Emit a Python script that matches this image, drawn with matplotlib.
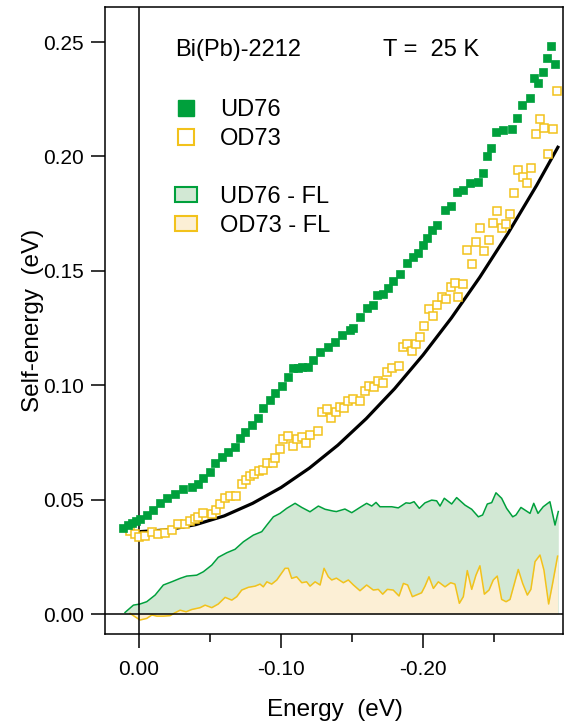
import numpy as np
import matplotlib
matplotlib.use("Agg")
import matplotlib.pyplot as plt
from matplotlib.lines import Line2D
from matplotlib.patches import Patch
from matplotlib.ticker import FormatStrFormatter

plt.rcParams['font.family'] = ['Liberation Sans', 'DejaVu Sans']
plt.rcParams['axes.unicode_minus'] = False

# UD76 self-energy (filled squares)
ud76_e = [0.011, 0.008, 0.005, 0.002, -0.001, -0.0054, -0.010, -0.0148, -0.0195, -0.0254,
          -0.0312, -0.0371, -0.0418, -0.0453, -0.050, -0.0535, -0.0582, -0.0629, -0.0676, -0.0711,
          -0.0746, -0.0794, -0.0841, -0.0875, -0.0923, -0.0958, -0.1005, -0.1051, -0.1087, -0.112,
          -0.115, -0.119, -0.1228, -0.1275, -0.1333, -0.138, -0.1427, -0.1486, -0.151, -0.1556,
          -0.1603, -0.165, -0.1674, -0.172, -0.1756, -0.179, -0.1838, -0.1885, -0.1932, -0.1967,
          -0.200, -0.2026, -0.206, -0.2096, -0.2155, -0.220, -0.2237, -0.2285, -0.233, -0.239,
          -0.242, -0.2449, -0.2477, -0.2514, -0.2566, -0.263, -0.266, -0.2695, -0.2754, -0.278,
          -0.281, -0.2843, -0.2871, -0.290, -0.293]
ud76_s = [0.0375, 0.0388, 0.0400, 0.0405, 0.0414, 0.0433, 0.0455, 0.0484, 0.0506, 0.0524,
          0.0545, 0.0556, 0.0568, 0.0593, 0.0622, 0.0659, 0.0688, 0.0709, 0.0731, 0.0768,
          0.0797, 0.0826, 0.0855, 0.0899, 0.0935, 0.0965, 0.0997, 0.1037, 0.1074, 0.1076,
          0.1078, 0.1080, 0.1110, 0.1147, 0.1168, 0.1190, 0.1219, 0.1241, 0.1249, 0.1300,
          0.1337, 0.1350, 0.1394, 0.1400, 0.1425, 0.1455, 0.1485, 0.1533, 0.1560, 0.1577,
          0.1613, 0.1642, 0.1678, 0.1700, 0.1765, 0.1785, 0.1843, 0.1853, 0.1882, 0.1887,
          0.1929, 0.2002, 0.2038, 0.2108, 0.2115, 0.2121, 0.2166, 0.2224, 0.2254, 0.2341,
          0.2322, 0.2368, 0.2432, 0.2483, 0.2404]

# OD73 self-energy (open squares)
od73_e = [0.0063, 0.0028, -0.0002, -0.0042, -0.009, -0.0136, -0.0183, -0.023, -0.0277, -0.0324,
          -0.036, -0.0394, -0.0418, -0.0453, -0.0512, -0.0542, -0.057, -0.0606, -0.064, -0.068,
          -0.0723, -0.0754, -0.078, -0.081, -0.0847, -0.0875, -0.090, -0.094, -0.0958, -0.0993,
          -0.1016, -0.1051, -0.1082, -0.111, -0.1146, -0.1176, -0.1204, -0.1263, -0.1292, -0.1321,
          -0.1351, -0.1386, -0.1415, -0.1444, -0.1474, -0.151, -0.1556, -0.1592, -0.1622, -0.1657,
          -0.1685, -0.1716, -0.1744, -0.178, -0.1834, -0.1862, -0.189, -0.192, -0.195, -0.1979,
          -0.201, -0.2043, -0.2073, -0.2102, -0.2132, -0.2162, -0.2195, -0.2228, -0.2249, -0.2284,
          -0.2312, -0.2343, -0.2371, -0.2401, -0.2432, -0.2463, -0.2491, -0.2523, -0.2554, -0.2582,
          -0.2613, -0.2643, -0.2671, -0.2702, -0.273, -0.276, -0.2794, -0.2824, -0.2852, -0.2882,
          -0.2913, -0.2941]
od73_s = [0.0364, 0.0350, 0.0338, 0.0341, 0.0357, 0.0350, 0.0353, 0.0367, 0.0393, 0.0392,
          0.0408, 0.0414, 0.0423, 0.0440, 0.0436, 0.0455, 0.0481, 0.0506, 0.0516, 0.0516,
          0.0568, 0.0586, 0.0603, 0.0611, 0.0626, 0.0630, 0.0661, 0.0661, 0.0683, 0.0720,
          0.0765, 0.0778, 0.0734, 0.0763, 0.0775, 0.0746, 0.0782, 0.0799, 0.0883, 0.0897,
          0.0855, 0.0884, 0.0906, 0.0899, 0.0932, 0.0938, 0.0931, 0.0976, 0.0998, 0.0994,
          0.1020, 0.1011, 0.1056, 0.1074, 0.1085, 0.1166, 0.1180, 0.1151, 0.1180, 0.1212,
          0.1259, 0.1334, 0.1301, 0.1352, 0.1387, 0.1377, 0.1428, 0.1445, 0.1384, 0.1442,
          0.1590, 0.1528, 0.1625, 0.1688, 0.1588, 0.1633, 0.1711, 0.1761, 0.1686, 0.1705,
          0.1747, 0.1839, 0.1941, 0.1909, 0.1886, 0.1948, 0.2098, 0.2162, 0.2126, 0.2010,
          0.2119, 0.2287]

# Fermi-liquid curve (black line)
fl_e = [0.0, -0.02, -0.04, -0.06, -0.08, -0.10, -0.12, -0.14, -0.16, -0.18, -0.20, -0.22,
        -0.24, -0.26, -0.28, -0.295]
fl_s = [0.0360, 0.0368, 0.0391, 0.0429, 0.0484, 0.0553, 0.0638, 0.0738, 0.0854, 0.0985,
        0.1132, 0.1294, 0.1472, 0.1665, 0.1873, 0.2040]

# UD76 - FL (green filled area)
ud_fl_e = [0.0099, 0.004, -0.0007, -0.0054, -0.0113, -0.0171, -0.023, -0.0289, -0.0336, -0.0406,
           -0.0453, -0.0512, -0.0558, -0.0618, -0.0676, -0.0735, -0.0805, -0.0864, -0.090, -0.0946,
           -0.0993, -0.104, -0.1099, -0.1146, -0.1204, -0.1263, -0.131, -0.1368, -0.139, -0.145,
           -0.1498, -0.1556, -0.1603, -0.1639, -0.1669, -0.1697, -0.178, -0.1826, -0.188, -0.1908,
           -0.1937, -0.1974, -0.2014, -0.2061, -0.2096, -0.212, -0.215, -0.2202, -0.2237, -0.2296,
           -0.2343, -0.239, -0.242, -0.2453, -0.2484, -0.2514, -0.2554, -0.2589, -0.2632, -0.2655,
           -0.269, -0.2754, -0.278, -0.281, -0.2847, -0.2894, -0.293, -0.2953]
ud_fl_s = [0.0007, 0.0039, 0.0044, 0.0054, 0.0083, 0.0127, 0.0141, 0.0156, 0.0166, 0.0170,
           0.0185, 0.0214, 0.0248, 0.0268, 0.0283, 0.0316, 0.0345, 0.0360, 0.0389, 0.0425,
           0.0440, 0.0462, 0.0484, 0.0466, 0.0447, 0.0472, 0.0458, 0.0450, 0.0448, 0.0459,
           0.0443, 0.0466, 0.0484, 0.0472, 0.0488, 0.0469, 0.0469, 0.0464, 0.0486, 0.0484,
           0.0491, 0.0462, 0.0486, 0.0498, 0.0495, 0.0472, 0.0506, 0.0481, 0.0509, 0.0476,
           0.0458, 0.0425, 0.0433, 0.0481, 0.0487, 0.0530, 0.0506, 0.0462, 0.0425, 0.0433,
           0.0466, 0.0440, 0.0484, 0.0440, 0.0469, 0.0491, 0.0389, 0.0448]

# OD73 - FL (yellow filled area)
od_fl_e = [0.0063, 0.0028, -0.0007, -0.0054, -0.009, -0.0125, -0.0171, -0.0218, -0.0254, -0.0289,
           -0.0331, -0.0371, -0.043, -0.0465, -0.0512, -0.0558, -0.0606, -0.0653, -0.0688, -0.0723,
           -0.077, -0.0817, -0.0852, -0.0875, -0.090, -0.0934, -0.097, -0.1028, -0.1051, -0.1075,
           -0.111, -0.1146, -0.118, -0.1204, -0.124, -0.1275, -0.1303, -0.1333, -0.1357, -0.139,
           -0.1439, -0.1474, -0.151, -0.1556, -0.1603, -0.165, -0.1685, -0.1716, -0.1749, -0.179,
           -0.1831, -0.1862, -0.1892, -0.1925, -0.199, -0.2014, -0.2042, -0.2073, -0.2108, -0.2155,
           -0.2195, -0.2225, -0.2256, -0.2284, -0.2312, -0.2343, -0.2373, -0.2401, -0.2432, -0.2465,
           -0.2495, -0.2523, -0.2554, -0.2585, -0.2613, -0.2671, -0.2702, -0.2735, -0.276, -0.2789,
           -0.2824, -0.2852, -0.2885, -0.2913, -0.2948]
od_fl_s = [0.0003, -0.0012, -0.0026, -0.0019, -0.0004, -0.0009, -0.0009, -0.0007, 0.0006, 0.0017,
           0.0010, 0.0020, 0.0028, 0.0039, 0.0028, 0.0044, 0.0073, 0.0061, 0.0076, 0.0105,
           0.0117, 0.0122, 0.0131, 0.0119, 0.0141, 0.0131, 0.0149, 0.0200, 0.0200, 0.0156,
           0.0163, 0.0137, 0.0141, 0.0122, 0.0141, 0.0127, 0.0200, 0.0163, 0.0149, 0.0157,
           0.0137, 0.0149, 0.0127, 0.0102, 0.0127, 0.0105, 0.0108, 0.0087, 0.0108, 0.0105,
           0.0079, 0.0134, 0.0127, 0.0076, 0.0093, 0.0122, 0.0163, 0.0112, 0.0141, 0.0119,
           0.0137, 0.0131, 0.0047, 0.0076, 0.0190, 0.0108, 0.0170, 0.0211, 0.0087, 0.0105,
           0.0149, 0.0166, 0.0064, 0.0054, 0.0064, 0.0195, 0.0134, 0.0083, 0.0108, 0.0229,
           0.0258, 0.0192, 0.0044, 0.0134, 0.0253]

green = '#00A03C'
yellow = '#F2C21B'
light_green = '#D2E8D4'
light_yellow = '#FCEFD5'

fig = plt.figure(figsize=(5.67, 7.21), dpi=100)
ax = fig.add_axes([0.1852, 0.1207, 0.8077, 0.8696])

# difference areas
ax.fill_between(ud_fl_e, ud_fl_s, 0, color=light_green, lw=0, zorder=1)
ax.fill_between(od_fl_e, od_fl_s, 0, color=light_yellow, lw=0, zorder=2)
ax.plot(ud_fl_e, ud_fl_s, color=green, lw=1.1, zorder=3)
ax.plot(od_fl_e, od_fl_s, color=yellow, lw=1.1, zorder=3)

# zero lines
ax.axhline(0, color='black', lw=1.1, zorder=4)
ax.axvline(0, color='black', lw=1.1, zorder=4)

# FL fit and data
ax.plot(fl_e, fl_s, color='black', lw=2.3, zorder=5)
ax.plot(od73_e, od73_s, ls='none', marker='s', ms=5.6, mfc='white', mec=yellow, mew=1.1, zorder=6)
ax.plot(ud76_e, ud76_s, ls='none', marker='s', ms=5.6, mfc=green, mec=green, mew=0.5, zorder=7)

ax.set_xlim(0.024, -0.2986)
ax.set_ylim(-0.0087, 0.2653)

ax.set_xticks([0.0, -0.1, -0.2])
ax.set_xticks([-0.05, -0.15, -0.25], minor=True)
ax.set_yticks(np.arange(0, 0.26, 0.05))
ax.xaxis.set_major_formatter(FormatStrFormatter('%.2f'))
ax.yaxis.set_major_formatter(FormatStrFormatter('%.2f'))
ax.tick_params(axis='both', which='major', direction='out', length=10, width=1.1,
               labelsize=15, color='black')
ax.tick_params(axis='x', which='major', pad=9)
ax.tick_params(axis='y', which='major', pad=5)
ax.tick_params(axis='x', which='minor', direction='out', length=6, width=1.1)
for sp in ax.spines.values():
    sp.set_linewidth(1.1)

ax.set_xlabel('Energy  (eV)', fontsize=17.5)
ax.set_ylabel('Self-energy  (eV)', fontsize=17.5)
ax.xaxis.set_label_coords(0.502, -0.103)
ax.yaxis.set_label_coords(-0.133, 0.5)

ax.text(0.153, 0.932, 'Bi(Pb)-2212', transform=ax.transAxes, fontsize=17, va='center')
ax.text(0.607, 0.932, 'T =  25 K', transform=ax.transAxes, fontsize=17, va='center')

handles = [
    Line2D([], [], ls='none', marker='s', ms=11, mfc=green, mec=green),
    Line2D([], [], ls='none', marker='s', ms=11, mfc='white', mec=yellow, mew=1.5),
    Line2D([], [], ls='none'),
    Patch(facecolor=light_green, edgecolor=green, lw=1.5),
    Patch(facecolor=light_yellow, edgecolor=yellow, lw=1.5),
]
labels = ['UD76', 'OD73', ' ', 'UD76 - FL', 'OD73 - FL']
ax.legend(handles, labels, loc='upper left', bbox_to_anchor=(0.1528, 0.854),
          frameon=False, fontsize=17, borderpad=0, borderaxespad=0,
          handlelength=0.93, handleheight=0.59, handletextpad=0.97, labelspacing=0.3)

fig.savefig('out.png', dpi=100)
